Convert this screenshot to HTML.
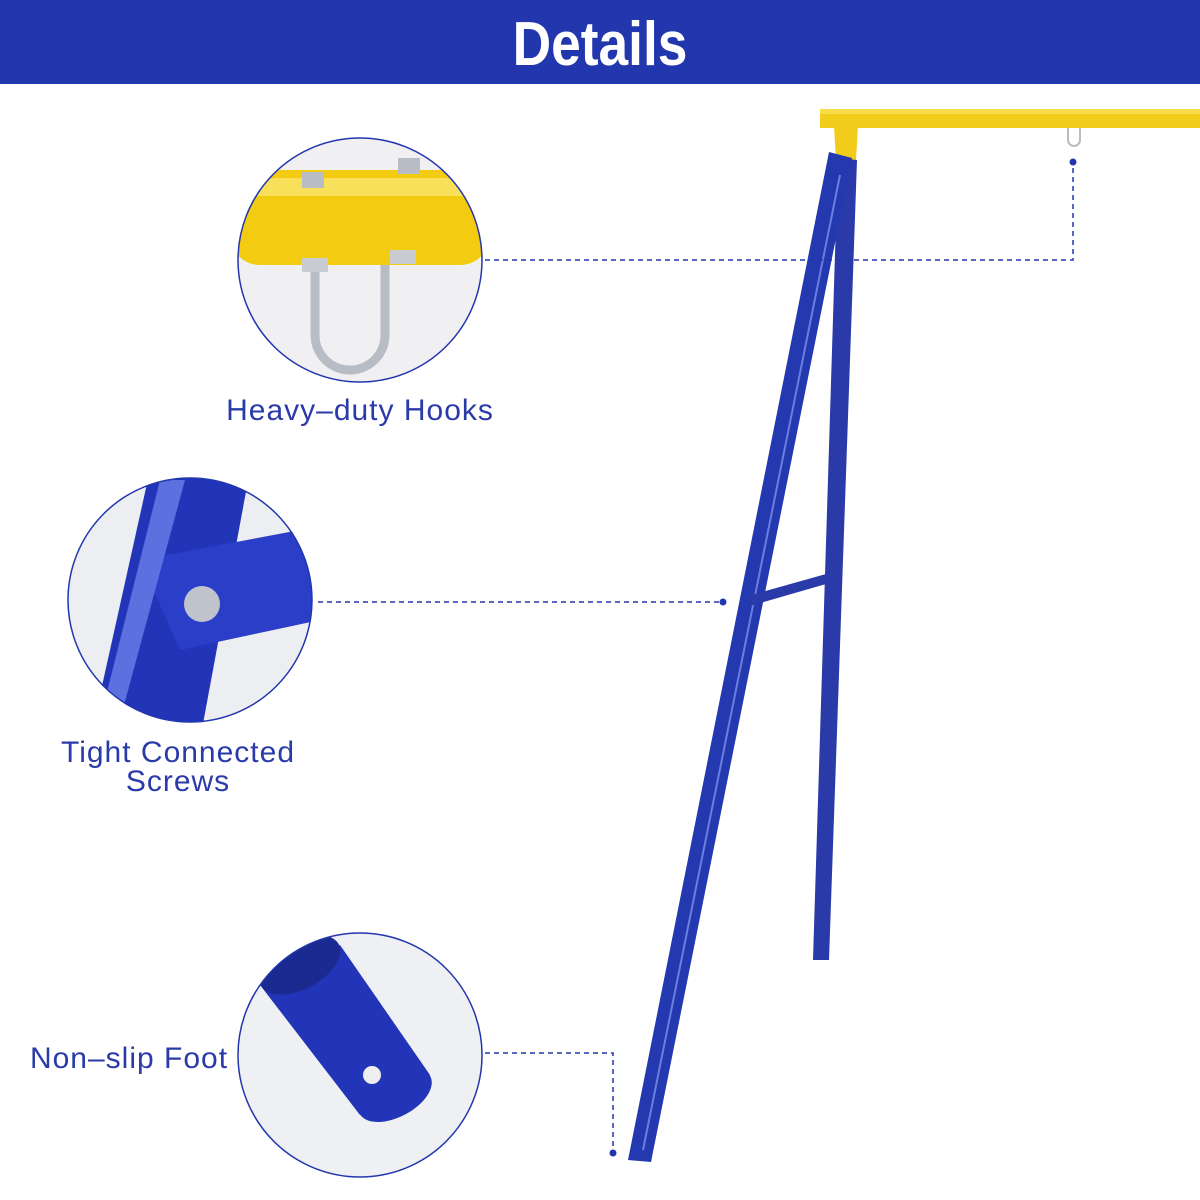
<!DOCTYPE html>
<html><head><style>
body{margin:0;background:#fff}
svg{display:block}
</style></head><body>
<svg width="1200" height="1200" xmlns="http://www.w3.org/2000/svg">
<rect width="1200" height="1200" fill="#fff"/>
<rect width="1200" height="84" fill="#2236ad"/>
<text x="600" y="65" text-anchor="middle" font-family="Liberation Sans, sans-serif" font-weight="bold" font-size="62" fill="#fff" transform="translate(600,0) scale(0.86,1) translate(-600,0)">Details</text>

<!-- frame -->
<rect x="820" y="109" width="380" height="19" fill="#f2cc1a"/>
<rect x="820" y="109" width="380" height="5" fill="#f8dd4a"/>
<polygon points="834,126 858,126 856,160 836,160" fill="#f2cc1a"/>
<polygon points="838,158 857,160 829,960 813,960" fill="#2a3aa8"/>
<polygon points="829,152 852,158 651,1162 628,1160" fill="#2438b0"/>
<line x1="840" y1="175" x2="643" y2="1150" stroke="#6b7fe0" stroke-width="2"/>
<polygon points="748,596 826,574 826,584 750,606" fill="#2a3aa8"/>
<path d="M1068 128 v12 a6 6 0 0 0 12 0 v-12" fill="none" stroke="#bbb" stroke-width="2"/>

<!-- dashed connectors -->
<g stroke="#2236ad" stroke-width="1.5" stroke-dasharray="5,4" fill="none">
<polyline points="485,260 1073,260 1073,165"/>
<line x1="318" y1="602" x2="720" y2="602"/>
<polyline points="485,1053 613,1053 613,1150"/>
</g>
<g fill="#2236ad"><circle cx="1073" cy="162" r="3.5"/><circle cx="723" cy="602" r="3.5"/><circle cx="613" cy="1153" r="3.5"/></g>

<defs>
<clipPath id="c1"><circle cx="360" cy="260" r="122"/></clipPath>
<clipPath id="c2"><circle cx="190" cy="600" r="122"/></clipPath>
<clipPath id="c3"><circle cx="360" cy="1055" r="122"/></clipPath>
</defs>
<g clip-path="url(#c1)">
<rect x="230" y="130" width="260" height="260" fill="#f0f0f2"/>
<rect x="230" y="170" width="260" height="95" rx="30" fill="#f3cc12"/>
<rect x="230" y="178" width="260" height="18" fill="#f9e05a"/>
<path d="M315 265 v70 a35 35 0 0 0 70 0 v-70" fill="none" stroke="#b8bcc4" stroke-width="9"/>
<rect x="302" y="258" width="26" height="14" fill="#c8cbd0"/><rect x="390" y="250" width="26" height="14" fill="#c8cbd0"/>
<rect x="302" y="172" width="22" height="16" fill="#b8bcc4"/><rect x="398" y="158" width="22" height="16" fill="#b8bcc4"/>
</g>
<circle cx="360" cy="260" r="122" fill="none" stroke="#2236ad" stroke-width="1.5"/>

<g clip-path="url(#c2)">
<rect x="60" y="470" width="260" height="260" fill="#eceef2"/>
<polygon points="150,470 250,470 200,740 90,740" fill="#2234b8"/>
<polygon points="140,560 300,530 320,620 180,650" fill="#2a3ec8"/>
<polygon points="160,480 185,480 120,720 100,720" fill="#5c70e0"/>
<circle cx="202" cy="604" r="18" fill="#bfc3cc"/>
</g>
<circle cx="190" cy="600" r="122" fill="none" stroke="#2236ad" stroke-width="1.5"/>

<g clip-path="url(#c3)">
<rect x="230" y="925" width="260" height="260" fill="#eff0f3"/>
<polygon points="260,985 340,945 430,1075 360,1115" fill="#2234b8"/>
<ellipse cx="300" cy="965" rx="44" ry="24" transform="rotate(-28 300 965)" fill="#1a2a90"/>
<ellipse cx="395" cy="1095" rx="40" ry="22" transform="rotate(-28 395 1095)" fill="#2234b8"/>
<circle cx="372" cy="1075" r="9" fill="#eee"/>
</g>
<circle cx="360" cy="1055" r="122" fill="none" stroke="#2236ad" stroke-width="1.5"/>

<g font-family="Liberation Sans, sans-serif" font-size="30" letter-spacing="1" fill="#2a3aa8">
<text x="360" y="420" text-anchor="middle">Heavy–duty Hooks</text>
<text x="178" y="762" text-anchor="middle">Tight Connected</text>
<text x="178" y="791" text-anchor="middle">Screws</text>
<text x="129" y="1068" text-anchor="middle">Non–slip Foot</text>
</g>
</svg>
</body></html>
